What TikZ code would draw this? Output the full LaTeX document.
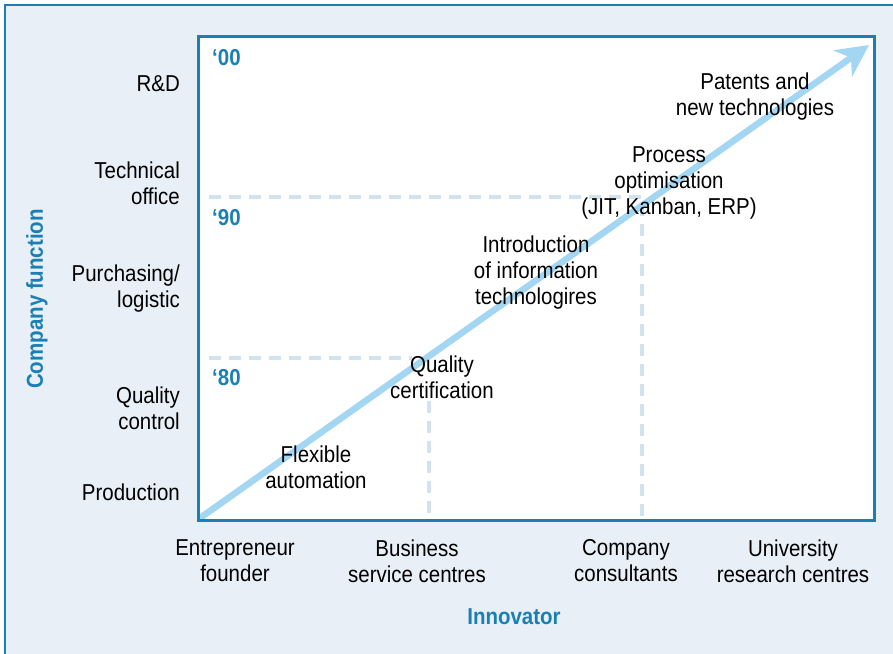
\documentclass[tikz,border=0pt]{standalone}
\usepackage{fontspec}
\setmainfont{Liberation Sans}[FakeStretch=0.89]
\usetikzlibrary{arrows.meta}
\definecolor{bgc}{HTML}{E8EFF6}
\definecolor{frameblue}{HTML}{1A80B4}
\definecolor{arrowblue}{HTML}{A3D6F2}
\definecolor{dashc}{HTML}{D2E3EE}
\begin{document}
\begin{tikzpicture}[x=1pt,y=-1pt,
  lbl/.style={inner sep=0pt, align=center, font=\fontsize{23}{26}\selectfont, text=black},
  ylbl/.style={lbl, align=right, anchor=east},
  blbl/.style={inner sep=0pt, font=\fontsize{23}{26}\selectfont\bfseries, text=frameblue},
  dashline/.style={draw=dashc, line width=3.5pt, dash pattern=on 12pt off 8pt}
]
\useasboundingbox (0,0) rectangle (893,653);
\fill[white] (0,0) rectangle (893,653);
\path[fill=bgc, draw=frameblue, line width=1.5pt] (5,5) rectangle (920,680);
\node[fill=white, minimum width=676pt, minimum height=484pt, anchor=north west, inner sep=0pt] (plot) at (198,36) {};
% dashed guides
\coordinate (h90a) at (209,197);
\coordinate (h90b) at (642,197);
\coordinate (v90b) at (642,519);
\draw[dashline] (h90a) -- (h90b) -- (v90b);
\coordinate (h80a) at (209,358);
\coordinate (h80b) at (412,358);
\coordinate (v80a) at (429,401);
\coordinate (v80b) at (429,519);
\draw[dashline] (h80a) -- (h80b);
\draw[dashline] (v80a) -- (v80b);
% main arrow
\coordinate (a0) at (200,518);
\coordinate (a1) at (869,45);
\draw[arrowblue, line width=6.5pt, -{Stealth[length=32pt,width=32pt,inset=10pt]}] (a0) -- (a1);
\draw[frameblue, line width=3pt] (plot.north west) rectangle (plot.south east);
% decades
\node[blbl, anchor=west] (d00) at (212,58) {‘00};
\node[blbl, anchor=west] (d90) at (212,218) {‘90};
\node[blbl, anchor=west] (d80) at (212,378) {‘80};
% y labels
\node[ylbl] (rd) at (180,84) {R\&D};
\node[ylbl] (to) at (180,183) {Technical\\office};
\node[ylbl] (pl) at (180,289) {Purchasing/\\logistic};
\node[ylbl] (qc) at (180,408) {Quality\\control};
\node[ylbl] (pr) at (180,492) {Production};
% x labels
\node[lbl] (ef) at (235,561) {Entrepreneur\\founder};
\node[lbl] (bs) at (417,561) {Business\\service centres};
\node[lbl] (cc) at (626,561) {Company\\consultants};
\node[lbl] (ur) at (793,561) {University\\research centres};
% axis titles
\node[blbl] (inn) at (514,617) {Innovator};
\node[blbl, rotate=90] (cf) at (37,299) {Company function};
% inner labels
\node[lbl] (pat) at (755,97) {Patents and\\new technologies};
\node[lbl] (pro) at (669,183) {Process\\optimisation\\(JIT, Kanban, ERP)};
\node[lbl] (int) at (536,273) {Introduction\\of information\\technologires};
\node[lbl] (qcert) at (442,377) {Quality\\certification};
\node[lbl] (flex) at (316,467) {Flexible\\automation};
\end{tikzpicture}
\end{document}
